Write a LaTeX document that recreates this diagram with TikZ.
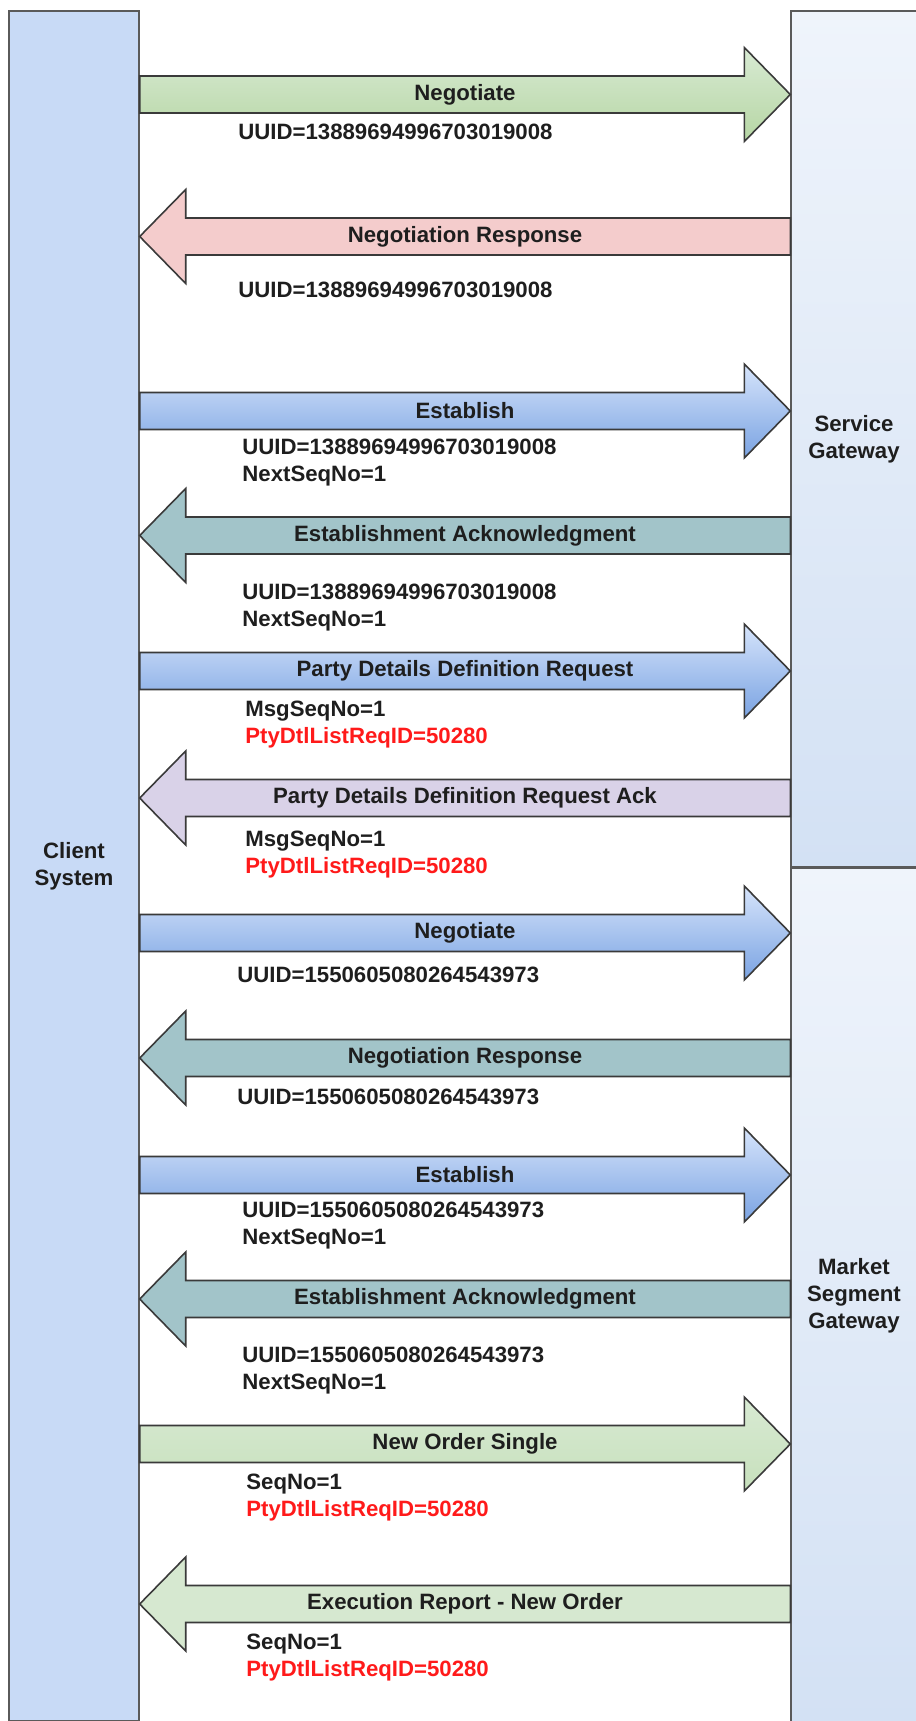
\documentclass[tikz,border=0pt]{standalone}
\usepackage{fontspec}
\setmainfont{Liberation Sans}
\usepackage{xcolor}
\usepackage{tikz}
\usetikzlibrary{calc,positioning}

\definecolor{boxline}{HTML}{5A5A5A}
\definecolor{arrline}{HTML}{3A3A3A}
\definecolor{clientfill}{HTML}{C8DAF6}
\definecolor{gwtop}{HTML}{EFF4FB}
\definecolor{gwbot}{HTML}{D3E1F4}
\definecolor{idred}{HTML}{FF1A1A}
\definecolor{txt}{HTML}{1E1E1E}
\newcommand{\msgfont}{\fontsize{11.1}{13.5}\selectfont\bfseries\color{txt}}

\begin{document}
\begin{tikzpicture}[x=0.5pt,y=-0.5pt,
  lifebox/.style={draw=boxline,line width=0.7pt,align=center,inner sep=0pt,font=\msgfont},
  msgarrow/.style={draw=arrline,line width=0.8pt},
  msglab/.style={font=\msgfont,inner sep=0pt},
  note/.style={font=\msgfont,anchor=west,align=left,inner sep=0pt},
  greengrad/.style={top color={rgb,255:red,216;green,234;blue,211},bottom color={rgb,255:red,182;green,214;blue,164}},
  lightgreen/.style={top color={rgb,255:red,216;green,234;blue,211},bottom color={rgb,255:red,199;green,224;blue,188}},
  flatgreen/.style={fill={rgb,255:red,214;green,232;blue,208}},
  pinkfill/.style={fill={rgb,255:red,244;green,204;blue,204}},
  bluegrad/.style={top color={rgb,255:red,214;green,228;blue,251},bottom color={rgb,255:red,122;green,163;blue,226}},
  tealfill/.style={fill={rgb,255:red,162;green,196;blue,201}},
  lavfill/.style={fill={rgb,255:red,217;green,210;blue,232}}]
\useasboundingbox (0,0) rectangle (916,1721);

% the three boxes
\node[lifebox,fill=clientfill,minimum width=65pt,minimum height=855pt] (client) at (74,866) {Client\\System};
\node[lifebox,top color=gwtop,bottom color=gwbot,minimum width=63pt,minimum height=428pt] (sg) at (854,439) {Service\\Gateway};
\node[lifebox,top color=gwtop,bottom color=gwbot,minimum width=63pt,minimum height=427pt,below=0pt of sg] (msgw) {Market\\Segment\\Gateway};

% client -> gateway
\foreach \y/\st/\lab/\nm in {94.5/greengrad/Negotiate/neg1,
  411/bluegrad/Establish/est1,
  671/bluegrad/Party Details Definition Request/pddr,
  933/bluegrad/Negotiate/neg2,
  1175/bluegrad/Establish/est2,
  1444/lightgreen/New Order Single/nos}
{
\coordinate (s) at (client.east |- 0,\y);
\coordinate (t) at (sg.west |- 0,\y);
\draw[msgarrow,\st] ($(s)+(0,-18.5)$) -- ($(t)+(-46,-18.5)$) -- ++(0,-28.5) -- (t)
  -- ++(-46,47) -- ++(0,-28.5) -- ($(s)+(0,18.5)$) -- cycle;
\node[msglab] (\nm) at ($(s)!0.5!(t)$) {\lab};
}

% gateway -> client
\foreach \y/\st/\lab/\nm in {236.5/pinkfill/Negotiation Response/negr1,
  535.5/tealfill/Establishment Acknowledgment/esta1,
  798/lavfill/Party Details Definition Request Ack/pddrack,
  1058/tealfill/Negotiation Response/negr2,
  1299/tealfill/Establishment Acknowledgment/esta2,
  1604/flatgreen/Execution Report - New Order/exrep}
{
\coordinate (s) at (client.east |- 0,\y);
\coordinate (t) at (sg.west |- 0,\y);
\draw[msgarrow,\st] ($(t)+(0,-18.5)$) -- ($(s)+(46,-18.5)$) -- ++(0,-28.5) -- (s)
  -- ++(46,47) -- ++(0,-28.5) -- ($(t)+(0,18.5)$) -- cycle;
\node[msglab] (\nm) at ($(s)!0.5!(t)$) {\lab};
}

% message fields
\node[note] (f1) at (238,132) {UUID=13889694996703019008};
\node[note] (f2) at (238,290) {UUID=13889694996703019008};
\node[note] (f3) at (242,462.5) {UUID=13889694996703019008\\NextSeqNo=1};
\node[note] (f4) at (242,607.5) {UUID=13889694996703019008\\NextSeqNo=1};
\node[note] (f5) at (245,725) {MsgSeqNo=1\\\textcolor{idred}{PtyDtlListReqID=50280}};
\node[note] (f6) at (245,854.5) {MsgSeqNo=1\\\textcolor{idred}{PtyDtlListReqID=50280}};
\node[note] (f7) at (237,975) {UUID=1550605080264543973};
\node[note] (f8) at (237,1097) {UUID=1550605080264543973};
\node[note] (f9) at (242,1226) {UUID=1550605080264543973\\NextSeqNo=1};
\node[note] (f10) at (242,1371) {UUID=1550605080264543973\\NextSeqNo=1};
\node[note] (f11) at (246,1498) {SeqNo=1\\\textcolor{idred}{PtyDtlListReqID=50280}};
\node[note] (f12) at (246,1658) {SeqNo=1\\\textcolor{idred}{PtyDtlListReqID=50280}};
\end{tikzpicture}
\end{document}
